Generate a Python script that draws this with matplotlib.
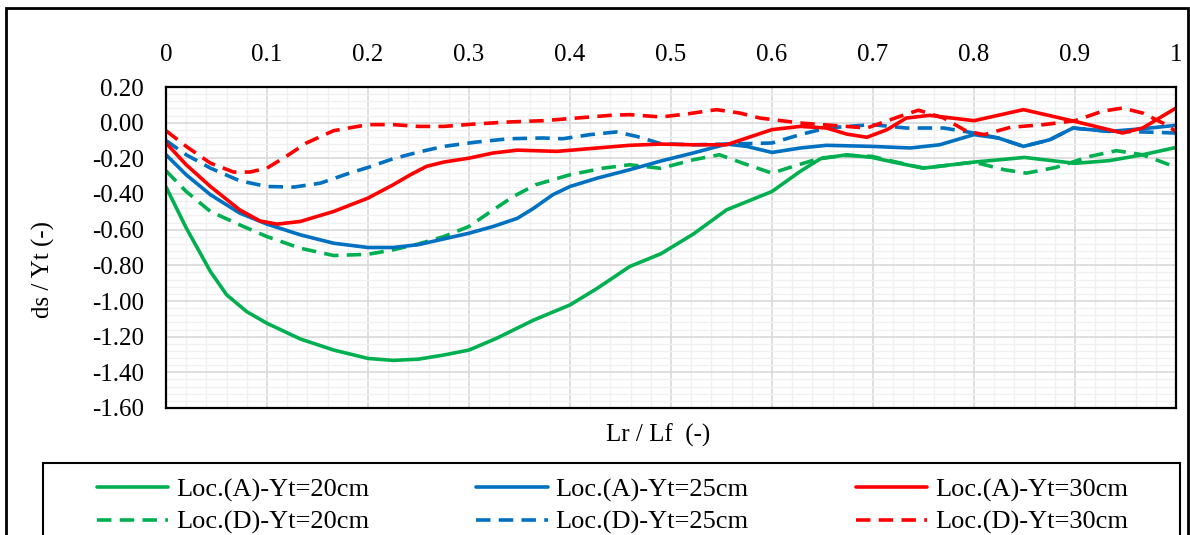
import numpy as np
import matplotlib
matplotlib.use('Agg')
from matplotlib import pyplot as plt
from matplotlib.patches import Rectangle
from matplotlib.ticker import MultipleLocator, FuncFormatter

plt.rcParams['font.family'] = ['Liberation Serif', 'DejaVu Serif']
plt.rcParams['axes.unicode_minus'] = False

# values (Lr/Lf, ds/Yt)
a20_x = [0, 0.02, 0.044, 0.06, 0.08, 0.10, 0.133, 0.166, 0.20, 0.225, 0.25, 0.275, 0.30, 0.327,
         0.364, 0.40, 0.427, 0.459, 0.49, 0.522, 0.555, 0.60, 0.628, 0.648, 0.674, 0.699, 0.72,
         0.75, 0.80, 0.85, 0.90, 0.934, 0.967, 1.0]
a20_y = [-0.36, -0.59, -0.835, -0.965, -1.06, -1.125, -1.213, -1.275, -1.322, -1.333, -1.326,
         -1.303, -1.275, -1.21, -1.107, -1.022, -0.929, -0.807, -0.735, -0.625, -0.489, -0.386,
         -0.273, -0.202, -0.18, -0.195, -0.221, -0.255, -0.221, -0.195, -0.228, -0.213, -0.18, -0.139]

d20_x = [0, 0.02, 0.044, 0.073, 0.10, 0.133, 0.166, 0.20, 0.225, 0.25, 0.275, 0.30, 0.324, 0.344,
         0.366, 0.40, 0.433, 0.459, 0.49, 0.522, 0.548, 0.571, 0.60, 0.621, 0.648, 0.674, 0.699,
         0.72, 0.75, 0.80, 0.83, 0.852, 0.881, 0.915, 0.941, 0.967, 1.0]
d20_y = [-0.27, -0.386, -0.498, -0.573, -0.639, -0.704, -0.745, -0.738, -0.713, -0.68, -0.639,
         -0.582, -0.489, -0.414, -0.348, -0.292, -0.255, -0.236, -0.256, -0.208, -0.18, -0.227,
         -0.283, -0.245, -0.199, -0.184, -0.189, -0.217, -0.255, -0.221, -0.264, -0.283, -0.251,
         -0.189, -0.157, -0.18, -0.25]

a25_x = [0, 0.02, 0.044, 0.073, 0.10, 0.133, 0.166, 0.20, 0.225, 0.25, 0.275, 0.30, 0.324, 0.348,
         0.364, 0.383, 0.40, 0.427, 0.459, 0.49, 0.522, 0.555, 0.575, 0.60, 0.628, 0.654, 0.699,
         0.737, 0.766, 0.80, 0.824, 0.849, 0.875, 0.898, 0.934, 0.967, 1.0]
a25_y = [-0.18, -0.292, -0.404, -0.507, -0.569, -0.629, -0.676, -0.70, -0.70, -0.684, -0.652,
         -0.62, -0.582, -0.536, -0.48, -0.404, -0.358, -0.311, -0.264, -0.215, -0.17, -0.12,
         -0.133, -0.167, -0.142, -0.127, -0.133, -0.142, -0.124, -0.067, -0.086, -0.133, -0.096,
         -0.03, -0.049, -0.034, -0.015]

d25_x = [0, 0.02, 0.044, 0.073, 0.10, 0.127, 0.153, 0.179, 0.20, 0.225, 0.25, 0.275, 0.307, 0.34,
         0.373, 0.393, 0.42, 0.446, 0.466, 0.49, 0.522, 0.555, 0.60, 0.628, 0.654, 0.699, 0.733,
         0.77, 0.80, 0.824, 0.849, 0.875, 0.898, 0.934, 0.967, 1.0]
d25_y = [-0.10, -0.18, -0.255, -0.326, -0.358, -0.361, -0.339, -0.288, -0.251, -0.202, -0.165,
         -0.133, -0.109, -0.09, -0.086, -0.09, -0.067, -0.052, -0.077, -0.118, -0.124, -0.12,
         -0.114, -0.067, -0.03, -0.011, -0.03, -0.03, -0.058, -0.086, -0.133, -0.096, -0.03,
         -0.049, -0.052, -0.058]

a30_x = [0, 0.02, 0.044, 0.073, 0.093, 0.11, 0.133, 0.166, 0.20, 0.225, 0.242, 0.258, 0.275, 0.30,
         0.324, 0.348, 0.387, 0.427, 0.459, 0.49, 0.522, 0.555, 0.575, 0.60, 0.628, 0.654, 0.674,
         0.694, 0.714, 0.733, 0.756, 0.80, 0.849, 0.90, 0.947, 0.967, 1.0]
a30_y = [-0.114, -0.236, -0.358, -0.489, -0.551, -0.569, -0.554, -0.498, -0.423, -0.348, -0.292,
         -0.245, -0.221, -0.199, -0.17, -0.154, -0.161, -0.142, -0.127, -0.12, -0.124, -0.124,
         -0.086, -0.039, -0.021, -0.03, -0.064, -0.082, -0.039, 0.026, 0.041, 0.011, 0.073, 0.007,
         -0.058, -0.03, 0.082]

d30_x = [0, 0.02, 0.044, 0.067, 0.083, 0.10, 0.119, 0.139, 0.166, 0.20, 0.225, 0.25, 0.275, 0.307,
         0.34, 0.373, 0.407, 0.44, 0.459, 0.49, 0.516, 0.545, 0.568, 0.588, 0.628, 0.674, 0.694,
         0.727, 0.745, 0.77, 0.793, 0.81, 0.836, 0.869, 0.90, 0.927, 0.947, 0.967, 0.987, 1.0]
d30_y = [-0.045, -0.133, -0.227, -0.277, -0.277, -0.255, -0.189, -0.114, -0.045, -0.011, -0.011,
         -0.021, -0.021, -0.007, 0.004, 0.011, 0.026, 0.041, 0.045, 0.032, 0.049, 0.073, 0.054,
         0.026, -0.002, -0.021, -0.03, 0.036, 0.07, 0.026, -0.049, -0.067, -0.026, -0.011, 0.011,
         0.064, 0.082, 0.054, -0.002, -0.049]

labels = ['Loc.(A)-Yt=20cm', 'Loc.(D)-Yt=20cm', 'Loc.(A)-Yt=25cm',
          'Loc.(D)-Yt=25cm', 'Loc.(A)-Yt=30cm', 'Loc.(D)-Yt=30cm']

green, blue, red = '#00B050', '#0070C0', '#FF0000'
dash = (0, (4, 2.3))

W, H = 1190, 535
fig = plt.figure(figsize=(W / 100, H / 100), dpi=100)

def fx(p):
    return p / W

def fy(p):
    return 1 - p / H

ax = fig.add_axes([fx(166), fy(408), fx(1176) - fx(166), fy(87) - fy(408)])

series = [(a20_x, a20_y, green, '-'), (d20_x, d20_y, green, dash),
          (a25_x, a25_y, blue, '-'), (d25_x, d25_y, blue, dash),
          (a30_x, a30_y, red, '-'), (d30_x, d30_y, red, dash)]
handles = []
for (x, y, c, ls), lab in zip(series, labels):
    h, = ax.plot(x, y, color=c, linestyle=ls, linewidth=2.6, label=lab,
                 solid_joinstyle='round', solid_capstyle='round')
    handles.append(h)

ax.set_xlim(0, 1)
ax.set_ylim(-1.6, 0.2)
ax.xaxis.set_major_locator(MultipleLocator(0.1))
ax.xaxis.set_minor_locator(MultipleLocator(0.02))
ax.yaxis.set_major_locator(MultipleLocator(0.2))
ax.yaxis.set_minor_locator(MultipleLocator(0.04))
ax.xaxis.set_major_formatter(FuncFormatter(lambda v, p: '%g' % round(v, 2)))
ax.yaxis.set_major_formatter(FuncFormatter(lambda v, p: '%.2f' % v))
ax.xaxis.tick_top()
ax.tick_params(axis='both', which='both', length=0, labelsize=18)
ax.tick_params(axis='x', pad=15)
ax.tick_params(axis='y', pad=16)
ax.grid(which='minor', color='#f0f0f0', linewidth=1.0)
ax.grid(which='major', color='#d9d9d9', linewidth=1.2)
ax.set_axisbelow(True)
for s in ax.spines.values():
    s.set_color('#000000')
    s.set_linewidth(1.6)

fig.text(fx(43), fy(269), 'ds / Yt (-)', rotation=90, ha='center', va='center', fontsize=18)
fig.text(fx(658), fy(435), 'Lr / Lf  (-)', ha='center', va='center', fontsize=18)

fig.legend(handles=handles, loc='upper left', ncol=3, mode='expand', frameon=False,
           bbox_to_anchor=(fx(97), fy(478) - 0.05, fx(1128) - fx(97), 0.05),
           borderpad=0, borderaxespad=0, handlelength=2.7, handletextpad=0.3,
           labelspacing=0.33, fontsize=19)

fig.add_artist(Rectangle((fx(43), fy(545)), fx(1180) - fx(43), fy(463) - fy(545),
                         transform=fig.transFigure, fill=False, edgecolor='black', linewidth=1.5))
fig.add_artist(Rectangle((fx(6), fy(545)), fx(1188) - fx(6), fy(8) - fy(545),
                         transform=fig.transFigure, fill=False, edgecolor='black', linewidth=2))

fig.savefig('out.png', dpi=100)
